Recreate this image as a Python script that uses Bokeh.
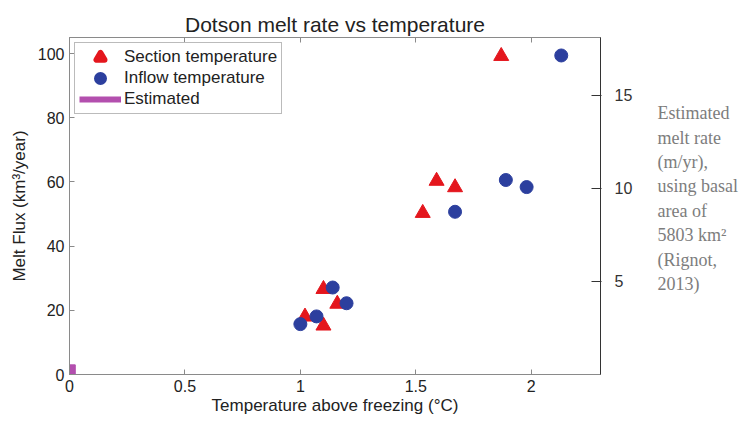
from bokeh.plotting import figure
from bokeh.layouts import row
from bokeh.models import Range1d, LinearAxis, FixedTicker, Label, Legend, LegendItem
from bokeh.embed import file_html
from bokeh.resources import INLINE

# Melt flux (km^3/yr) against temperature above freezing (degC)
section_temp = [1.87, 1.59, 1.67, 1.53, 1.10, 1.02, 1.10, 1.16]
section_flux = [99.2, 60.3, 58.3, 50.3, 26.6, 18.0, 15.2, 22.0]
inflow_temp = [2.13, 1.89, 1.98, 1.67, 1.14, 1.07, 1.00, 1.20]
inflow_flux = [99.4, 60.6, 58.4, 50.7, 27.1, 18.1, 15.7, 22.2]
est_temp = [0.0]
est_flux = [3.0]

# Basal area (km^2) used to turn flux into a melt rate in m/yr
basal_area_km2 = 5803

x_ticks = [0, 0.5, 1, 1.5, 2]
y_ticks = [0, 20, 40, 60, 80, 100]
rate_ticks = [5, 10, 15]
x_max = 2.3
y_max = 105

note_lines = ["Estimated", "melt rate", "(m/yr),", "using basal",
              "area of", "5803 km\u00b2", "(Rignot,", "2013)"]

RED = "#e4161d"
BLUE = "#2c3f9e"
MAGENTA = "#b34fae"
AXIS_GREY = "#8a8a8a"
TEXT = "#222222"
FONT = "Liberation Sans"

p = figure(width=640, height=421, output_backend="svg", toolbar_location=None,
           x_range=Range1d(0, x_max), y_range=Range1d(0, y_max),
           min_border_left=69, min_border_right=40, min_border_top=37,
           min_border_bottom=47)
p.title.text = "Dotson melt rate vs temperature"
p.title.align = "center"
p.title.vertical_align = "top"
p.title.text_font = FONT
p.title.text_font_size = "21px"
p.title.text_font_style = "normal"
p.title.text_color = TEXT
p.title.standoff = 0

p.grid.visible = False
p.outline_line_color = AXIS_GREY
p.background_fill_color = "white"
p.border_fill_color = "white"

for ax in (p.xaxis[0], p.yaxis[0]):
    ax.axis_line_color = AXIS_GREY
    ax.major_tick_line_color = AXIS_GREY
    ax.major_tick_in = 5
    ax.major_tick_out = 0
    ax.minor_tick_line_color = None
    ax.major_label_text_font = FONT
    ax.major_label_text_font_size = "16px"
    ax.major_label_text_color = TEXT
    ax.axis_label_text_font = FONT
    ax.axis_label_text_font_size = "17px"
    ax.axis_label_text_font_style = "normal"
    ax.axis_label_text_color = TEXT

p.xaxis[0].ticker = FixedTicker(ticks=x_ticks)
p.yaxis[0].ticker = FixedTicker(ticks=y_ticks)
p.xaxis[0].axis_label = "Temperature above freezing (\u00b0C)"
p.yaxis[0].axis_label = "Melt Flux (km\u00b3/year)"
p.xaxis[0].major_label_standoff = 5
p.yaxis[0].major_label_standoff = 5
p.xaxis[0].axis_label_standoff = 1
p.yaxis[0].axis_label_standoff = 6

# tick marks along the top edge, without labels
top_axis = LinearAxis(ticker=FixedTicker(ticks=x_ticks), axis_line_color=AXIS_GREY,
                      major_tick_line_color=AXIS_GREY, major_tick_in=5, major_tick_out=0,
                      minor_tick_line_color=None,
                      major_label_overrides={t: "" for t in x_ticks},
                      major_label_standoff=14)
p.add_layout(top_axis, "above")

# right axis: melt rate in m/yr for the same flux scale
p.extra_y_ranges = {"rate": Range1d(0, y_max * 1000 / basal_area_km2)}
rate_axis = LinearAxis(y_range_name="rate", ticker=FixedTicker(ticks=rate_ticks),
                       axis_line_color="#333333", major_tick_line_color="#333333",
                       major_tick_in=9, major_tick_out=1, minor_tick_line_color=None,
                       major_label_text_font=FONT, major_label_text_font_size="16px",
                       major_label_text_color="#333333", major_label_standoff=13)
p.add_layout(rate_axis, "right")

p.scatter(section_temp, section_flux, marker="triangle", size=15,
          fill_color=RED, line_color=RED)
p.scatter(inflow_temp, inflow_flux, marker="circle", size=13,
          fill_color=BLUE, line_color=BLUE)
p.vbar(x=est_temp, top=est_flux, bottom=0, width=0.05,
       fill_color=MAGENTA, line_color=MAGENTA)

# hidden copies used only for the legend keys, stroked thick so they read at full size
key_sec = p.scatter(section_temp, section_flux, marker="triangle", fill_color=RED,
                    line_color=RED, line_width=6, line_join="round", visible=False)
key_inf = p.scatter(inflow_temp, inflow_flux, marker="circle", fill_color=BLUE,
                    line_color=BLUE, line_width=5, visible=False)
key_est = p.segment(x0=est_temp, y0=[0] * len(est_flux), x1=est_temp, y1=est_flux,
                    line_color=MAGENTA, line_width=6, visible=False)

legend = Legend(items=[LegendItem(label="Section temperature", renderers=[key_sec]),
                       LegendItem(label="Inflow temperature", renderers=[key_inf]),
                       LegendItem(label="Estimated", renderers=[key_est])],
                location="top_left", margin=5, padding=4, spacing=1,
                glyph_width=42, glyph_height=20, label_height=20,
                label_standoff=3, label_text_font=FONT, label_text_font_size="17px",
                label_text_color=TEXT, border_line_color="#777777",
                background_fill_alpha=1.0, inactive_fill_alpha=0.0)
p.add_layout(legend, "center")

# explanatory note beside the melt-rate axis (its frame lines up with the plot's)
note = figure(width=111, height=421, output_backend="svg", toolbar_location=None,
              x_range=Range1d(0, 111), y_range=Range1d(0, y_max),
              x_axis_location=None, y_axis_location=None,
              min_border=0, outline_line_color=None)
note.grid.visible = False
px_per_unit = 3.225
for i, line in enumerate(note_lines):
    note.add_layout(Label(x=17, y=(374.5 - (112 + 24.5 * i)) / px_per_unit, text=line,
                          text_font="Liberation Serif", text_font_size="18px",
                          text_color="#7d7d7d", text_baseline="middle"))

open("out.html", "w").write(file_html(row(p, note), INLINE))
